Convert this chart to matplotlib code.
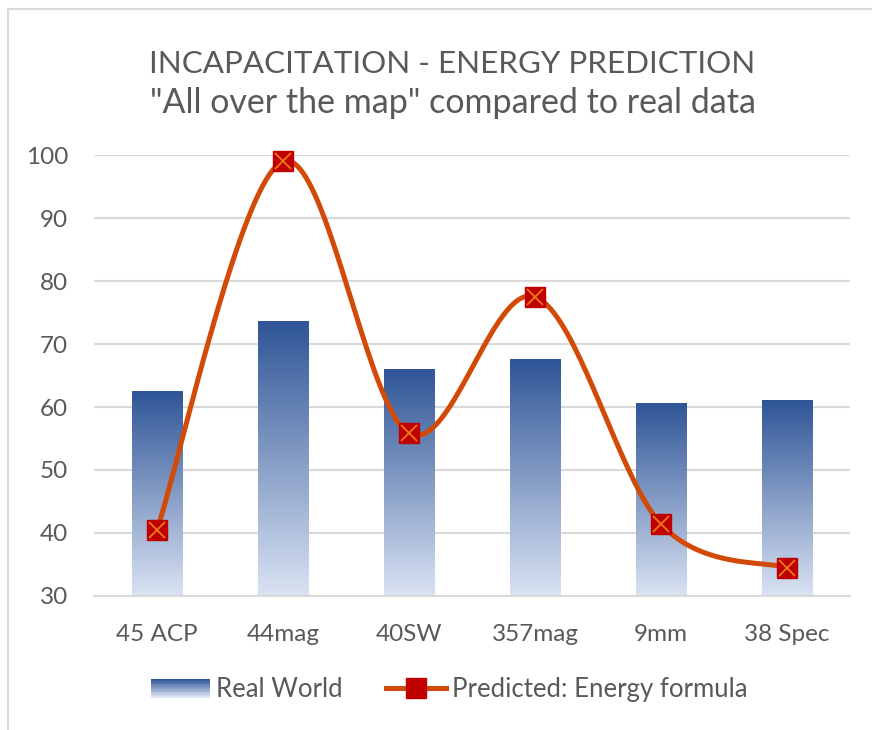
import numpy as np
import matplotlib.pyplot as plt
from matplotlib.patches import Rectangle
from matplotlib.lines import Line2D
from matplotlib.legend_handler import HandlerBase
from matplotlib.colors import LinearSegmentedColormap

plt.rcParams['font.family'] = ['Lato', 'DejaVu Sans']

# data
categories = ['45 ACP', '44mag', '40SW', '357mag', '9mm', '38 Spec']
real_world = [62.5, 73.6, 66.0, 67.6, 60.6, 61.1]
predicted = [40.5, 99.0, 55.8, 77.5, 41.4, 34.5]
yticks = [30, 40, 50, 60, 70, 80, 90, 100]

title_color = '#595959'
grid_color = '#D9D9D9'
line_color = '#D24A08'
top_blue = '#2F5597'
low_blue = '#DAE3F3'
grad = LinearSegmentedColormap.from_list('bargrad', [low_blue, top_blue])


def smooth(xs, ys, n=40):
    # Catmull-Rom spline through the points (like Excel's smoothed line)
    p = np.column_stack([xs, ys]).astype(float)
    p = np.vstack([p[0], p, p[-1]])
    out = []
    for i in range(1, len(p) - 2):
        p0, p1, p2, p3 = p[i - 1], p[i], p[i + 1], p[i + 2]
        t = np.linspace(0, 1, n)[:, None]
        seg = 0.5 * ((2 * p1) + (-p0 + p2) * t + (2 * p0 - 5 * p1 + 4 * p2 - p3) * t ** 2
                     + (-p0 + 3 * p1 - 3 * p2 + p3) * t ** 3)
        out.append(seg)
    out = np.vstack(out)
    return out[:, 0], out[:, 1]


class GradientHandler(HandlerBase):
    def create_artists(self, legend, orig_handle, xdescent, ydescent,
                       width, height, fontsize, trans):
        strips = []
        n = 14
        for k in range(n):
            c = grad(1 - k / (n - 1))
            r = Rectangle((-xdescent, -ydescent + height * (1 - (k + 1) / n)),
                          width, height / n + 0.3, facecolor=c, edgecolor='none',
                          transform=trans)
            strips.append(r)
        return strips


fig = plt.figure(figsize=(8.72, 7.3), dpi=100)
ax = fig.add_axes([0.1078, 0.1836, 0.867, 0.604])

x = np.arange(len(categories))
ymin, ymax = 30, 100
bar_w = 0.4
gimg = np.linspace(0, 1, 256).reshape(-1, 1)
for xi, v in zip(x, real_world):
    ax.imshow(gimg, cmap=grad, origin='lower', aspect='auto',
              extent=(xi - bar_w / 2, xi + bar_w / 2, ymin, v), zorder=2)

xs, ys = smooth(x, predicted)
ax.plot(xs, ys, color=line_color, lw=3.6, zorder=3, solid_capstyle='round')
ax.plot(x, predicted, ls='none', marker='s', ms=14, mfc='#C00000',
        mec='#C00000', zorder=4, clip_on=False)
ax.plot(x, predicted, ls='none', marker='x', ms=12, mew=1.3,
        mec='#F07818', zorder=5, clip_on=False)

ax.set_xlim(-0.5, len(categories) - 0.5)
ax.set_ylim(ymin, ymax)
ax.set_yticks(yticks)
ax.set_xticks(x)
ax.set_xticklabels(categories)
ax.tick_params(axis='both', length=0, labelsize=17.5, labelcolor=title_color)
ax.tick_params(axis='y', pad=18.5)
ax.tick_params(axis='x', pad=20)
ax.grid(axis='y', color=grid_color, lw=1.5, zorder=0)
ax.set_axisbelow(True)
for s in ['top', 'right', 'left']:
    ax.spines[s].set_visible(False)
ax.spines['bottom'].set_color(grid_color)
ax.spines['bottom'].set_linewidth(1.5)

fig.text(0.518, 0.900, 'INCAPACITATION - ENERGY PREDICTION', ha='center',
         va='baseline', fontsize=22.6, color=title_color)
fig.text(0.52, 0.845, '"All over the map" compared to real data', ha='center',
         va='baseline', fontsize=24.5, color=title_color)

h_bar = Rectangle((0, 0), 1, 1)
h_line = Line2D([], [], color=line_color, lw=3.6, marker='s', ms=14,
                mfc='#C00000', mec='#C00000')
leg = fig.legend([h_bar, h_line], ['Real World', 'Predicted: Energy formula'],
                 loc='center', bbox_to_anchor=(0.515, 0.055), ncol=2,
                 frameon=False, fontsize=18.5, handlelength=2.3,
                 handleheight=0.75, handletextpad=0.25, columnspacing=1.7,
                 handler_map={Rectangle: GradientHandler()})
for t in leg.get_texts():
    t.set_color(title_color)

# chart area border (cut off at the right and bottom)
fig.add_artist(Line2D([8 / 872, 8 / 872], [0, 1 - 9 / 730], color=grid_color,
                      lw=1.5, transform=fig.transFigure))
fig.add_artist(Line2D([8 / 872, 1], [1 - 9 / 730, 1 - 9 / 730], color=grid_color,
                      lw=1.5, transform=fig.transFigure))

fig.savefig('out.png', dpi=100)
